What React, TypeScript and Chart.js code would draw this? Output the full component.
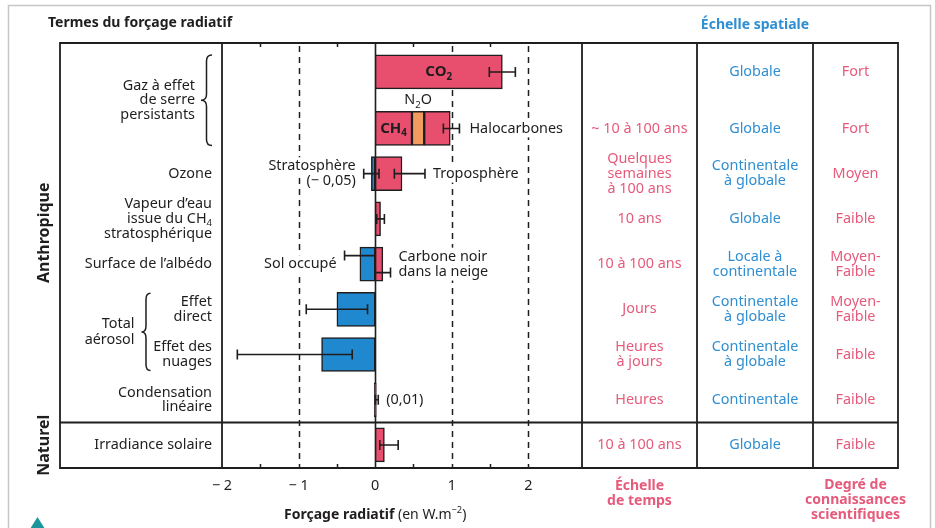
import React, { useEffect, useRef } from 'react';
import { Chart, registerables } from 'chart.js';

Chart.register(...registerables);

// ---- Forçage radiatif (W.m-2) ----
const termes = [
  'CO₂', 'CH₄ + N₂O + halocarbones', 'Ozone', 'Vapeur d’eau stratosphérique', 'Albédo de surface',
  'Aérosol, effet direct', 'Aérosol, effet des nuages', 'Condensation linéaire', 'Irradiance solaire',
];
const rechauffement = [1.66, 0.48, 0.35, 0.07, 0.1, 0, 0, 0.01, 0.12];
const refroidissement = [0, 0, -0.05, 0, -0.2, -0.5, -0.7, 0, 0];
const n2o = [0.48, 0.64];
const halocarbones = [0.64, 0.98];
const incertitudePositive: (number[] | null)[] = [
  [1.49, 1.83], [0.89, 1.1], [0.25, 0.65], [0.02, 0.12], [0.0, 0.2], null, null, [0.003, 0.04], [0.06, 0.3],
];
const incertitudeNegative: (number[] | null)[] = [
  null, null, [-0.15, 0.05], null, [-0.4, 0.0], [-0.9, -0.1], [-1.8, -0.3], null, null,
];
const xTicks = [-2, -1, 0, 1, 2];
const xDashed = [-1, 1, 2];
const xMinor = [-1.5, -0.5, 0.5, 1.5];

// ---- Colonnes du tableau ----
type Part = { t: string; sub?: boolean; sup?: boolean; bold?: boolean };
type Line = string | Part[];

const libelles: Line[][] = [
  [],
  [],
  ['Ozone'],
  ['Vapeur d’eau', [{ t: 'issue du CH' }, { t: '4', sub: true }], 'stratosphérique'],
  ['Surface de l’albédo'],
  ['Effet', 'direct'],
  ['Effet des', 'nuages'],
  ['Condensation', 'linéaire'],
  ['Irradiance solaire'],
];
const groupeGES = ['Gaz à effet', 'de serre', 'persistants'];
const groupeAerosol = ['Total', 'aérosol'];

const echelleTemps: Line[][] = [
  [],
  ['~ 10 à 100 ans'],
  ['Quelques', 'semaines', 'à 100 ans'],
  ['10 ans'],
  ['10 à 100 ans'],
  ['Jours'],
  ['Heures', 'à jours'],
  ['Heures'],
  ['10 à 100 ans'],
];
const echelleSpatiale: Line[][] = [
  ['Globale'],
  ['Globale'],
  ['Continentale', 'à globale'],
  ['Globale'],
  ['Locale à', 'continentale'],
  ['Continentale', 'à globale'],
  ['Continentale', 'à globale'],
  ['Continentale'],
  ['Globale'],
];
const connaissances: Line[][] = [
  ['Fort'], ['Fort'], ['Moyen'], ['Faible'], ['Moyen-', 'Faible'], ['Moyen-', 'Faible'], ['Faible'], ['Faible'], ['Faible'],
];

// ---- Mise en page ----
const rowSlot = [0, 1.25, 2.25, 3.25, 4.25, 5.25, 6.25, 7.25, 8.25];
const TABLE_LEFT = 60;
const COL_WIDTHS = [115, 116, 85];
const ALBEDO_SHIFT = [-8.5, 8.5]; // barres d'erreur décalées dans la ligne albédo

const PINK = '#E84F6E';
const BLUE = '#2088CE';
const ORANGE = '#F29B5F';
const INK = '#1f1d1d';
const TXT_PINK = '#E65A7B';
const TXT_BLUE = '#2F8FD2';
const FAMILY = '"Noto Sans", "DejaVu Sans", sans-serif';
const FS = 14.4;

type Align = 'left' | 'right' | 'center';

function setFont(ctx: CanvasRenderingContext2D, size: number, bold?: boolean) {
  ctx.font = `${bold ? '700 ' : ''}${size}px ${FAMILY}`;
}

function measureRich(ctx: CanvasRenderingContext2D, line: Line, size: number, bold: boolean) {
  const parts: Part[] = typeof line === 'string' ? [{ t: line }] : line;
  const sizes = parts.map((p) => (p.sub || p.sup ? size * 0.66 : size));
  const widths = parts.map((p, i) => {
    setFont(ctx, sizes[i], p.bold ?? bold);
    return ctx.measureText(p.t).width;
  });
  return { parts, sizes, widths, total: widths.reduce((a, b) => a + b, 0) };
}

function drawRich(
  ctx: CanvasRenderingContext2D, line: Line, x: number, y: number,
  align: Align, color: string, size = FS, bold = false, knockout = false,
) {
  const { parts, sizes, widths, total } = measureRich(ctx, line, size, bold);
  let cx = align === 'left' ? x : align === 'right' ? x - total : x - total / 2;
  if (knockout) {
    ctx.fillStyle = '#fff';
    ctx.fillRect(cx - 2, y - size * 0.62, total + 4, size * 1.24);
  }
  ctx.fillStyle = color;
  ctx.textAlign = 'left';
  ctx.textBaseline = 'middle';
  parts.forEach((p, i) => {
    setFont(ctx, sizes[i], p.bold ?? bold);
    const dy = p.sub ? size * 0.32 : p.sup ? -size * 0.3 : 0;
    ctx.fillText(p.t, cx, y + dy);
    cx += widths[i];
  });
}

function drawLines(
  ctx: CanvasRenderingContext2D, lines: Line[], x: number, yc: number,
  align: Align, color: string, lh = 15, size = FS, bold = false, knockout = false,
) {
  const n = lines.length;
  lines.forEach((l, i) => drawRich(ctx, l, x, yc + (i - (n - 1) / 2) * lh, align, color, size, bold, knockout));
}

function brace(ctx: CanvasRenderingContext2D, xTip: number, xEnd: number, y0: number, y1: number) {
  const xm = (xTip + xEnd) / 2;
  const yc = (y0 + y1) / 2;
  const r = 6;
  ctx.beginPath();
  ctx.moveTo(xEnd, y0);
  ctx.quadraticCurveTo(xm, y0, xm, y0 + r);
  ctx.lineTo(xm, yc - r);
  ctx.quadraticCurveTo(xm, yc, xTip, yc);
  ctx.quadraticCurveTo(xm, yc, xm, yc + r);
  ctx.lineTo(xm, y1 - r);
  ctx.quadraticCurveTo(xm, y1, xEnd, y1);
  ctx.stroke();
}

const decor = {
  id: 'decor',
  beforeDraw(chart: any) {
    const ctx: CanvasRenderingContext2D = chart.ctx;
    ctx.save();
    ctx.strokeStyle = '#c6c6c6';
    ctx.lineWidth = 1.5;
    ctx.beginPath();
    ctx.moveTo(8.5, 530);
    ctx.lineTo(8.5, 5.5);
    ctx.lineTo(930.5, 5.5);
    ctx.lineTo(930.5, 530);
    ctx.stroke();
    ctx.fillStyle = '#1a979d';
    ctx.beginPath();
    ctx.moveTo(30, 529);
    ctx.lineTo(37.5, 517);
    ctx.lineTo(45, 529);
    ctx.closePath();
    ctx.fill();
    drawRich(ctx, 'Termes du forçage radiatif', 48, 23, 'left', INK, 14, true);
    ctx.restore();
  },
  beforeDatasetsDraw(chart: any) {
    const ctx: CanvasRenderingContext2D = chart.ctx;
    const x = chart.scales.x;
    const { top, bottom } = chart.chartArea;
    ctx.save();
    ctx.strokeStyle = INK;
    ctx.lineWidth = 1.5;
    ctx.setLineDash([6, 5]);
    xDashed.forEach((v) => {
      const px = Math.round(x.getPixelForValue(v)) + 0.5;
      ctx.beginPath();
      ctx.moveTo(px, top + 3);
      ctx.lineTo(px, bottom);
      ctx.stroke();
    });
    ctx.setLineDash([]);
    xMinor.forEach((v) => {
      const px = Math.round(x.getPixelForValue(v)) + 0.5;
      ctx.beginPath();
      ctx.moveTo(px, top);
      ctx.lineTo(px, top + 4);
      ctx.moveTo(px, bottom);
      ctx.lineTo(px, bottom - 4);
      ctx.stroke();
    });
    const z = Math.round(x.getPixelForValue(0)) + 0.5;
    ctx.lineWidth = 1.6;
    ctx.beginPath();
    ctx.moveTo(z, top);
    ctx.lineTo(z, bottom);
    ctx.stroke();
    ctx.restore();
  },
  afterDatasetsDraw(chart: any) {
    const ctx: CanvasRenderingContext2D = chart.ctx;
    const xs = chart.scales.x;
    const ys = chart.scales.y;
    const { left, right, top, bottom } = chart.chartArea;
    const px = (v: number) => xs.getPixelForValue(v);
    const py = (s: number) => ys.getPixelForValue(s);
    ctx.save();

    // étiquettes dans le graphique (fond blanc qui masque les pointillés)
    const lo = (r: number[] | null) => px((r as number[])[0]);
    const hi = (r: number[] | null) => px((r as number[])[1]);
    drawRich(ctx, 'Halocarbones', hi(incertitudePositive[1]) + 10, py(rowSlot[1]), 'left', INK, FS, false, true);
    drawLines(ctx, ['Stratosphère', '(− 0,05)'], lo(incertitudeNegative[2]) - 8, py(rowSlot[2]), 'right', INK, 15, FS, false, true);
    drawRich(ctx, 'Troposphère', hi(incertitudePositive[2]) + 8, py(rowSlot[2]), 'left', INK, FS, false, true);
    drawRich(ctx, 'Sol occupé', lo(incertitudeNegative[4]) - 8, py(rowSlot[4]), 'right', INK, FS, false, true);
    drawLines(ctx, ['Carbone noir', 'dans la neige'], hi(incertitudePositive[4]) + 8, py(rowSlot[4]), 'left', INK, 15, FS, false, true);
    drawRich(ctx, '(0,01)', hi(incertitudePositive[7]) + 8, py(rowSlot[7]), 'left', INK, FS, false, true);
    drawRich(ctx, [{ t: 'N' }, { t: '2', sub: true }, { t: 'O' }], px((n2o[0] + n2o[1]) / 2), py((rowSlot[0] + rowSlot[1]) / 2), 'center', INK);
    drawRich(ctx, [{ t: 'CO', bold: true }, { t: '2', sub: true, bold: true }], px(rechauffement[0] / 2), py(rowSlot[0]), 'center', INK, 15);
    drawRich(ctx, [{ t: 'CH', bold: true }, { t: '4', sub: true, bold: true }], px(rechauffement[1] / 2), py(rowSlot[1]), 'center', INK, 15);

    // barres d'incertitude
    ctx.strokeStyle = INK;
    ctx.lineWidth = 1.6;
    const errBar = (r: number[], y: number) => {
      const a = px(r[0]);
      const b = px(r[1]);
      ctx.beginPath();
      ctx.moveTo(a, y);
      ctx.lineTo(b, y);
      ctx.moveTo(a, y - 5);
      ctx.lineTo(a, y + 5);
      ctx.moveTo(b, y - 5);
      ctx.lineTo(b, y + 5);
      ctx.stroke();
    };
    rowSlot.forEach((s, i) => {
      const y = py(s);
      const pos = incertitudePositive[i];
      const neg = incertitudeNegative[i];
      const split = pos && neg && i === 4;
      if (neg) errBar(neg, y + (split ? ALBEDO_SHIFT[0] : 0));
      if (pos) errBar(pos, y + (split ? ALBEDO_SHIFT[1] : 0));
    });

    // tableau
    const cols = [right];
    COL_WIDTHS.forEach((w) => cols.push(cols[cols.length - 1] + w));
    const tableRight = cols[cols.length - 1];
    const sep = Math.round(py((rowSlot[7] + rowSlot[8]) / 2)) + 0.5;
    ctx.strokeStyle = INK;
    ctx.lineWidth = 1.8;
    ctx.beginPath();
    ctx.rect(TABLE_LEFT, top, tableRight - TABLE_LEFT, bottom - top);
    [left, ...cols.slice(0, 3)].forEach((c) => {
      ctx.moveTo(c, top);
      ctx.lineTo(c, bottom);
    });
    ctx.moveTo(TABLE_LEFT, sep);
    ctx.lineTo(tableRight, sep);
    ctx.stroke();

    // libellés des termes
    const labelRight = left - 10;
    rowSlot.forEach((s, i) => drawLines(ctx, libelles[i], labelRight, py(s), 'right', INK, 14.6));
    ctx.lineWidth = 1.5;
    const gTip = labelRight - 11;
    brace(ctx, gTip, labelRight, py(rowSlot[0]) - 17, py(rowSlot[1]) + 17);
    drawLines(ctx, groupeGES, gTip - 6, py((rowSlot[0] + rowSlot[1]) / 2), 'right', INK, 14.6);
    const aTip = 141.5;
    brace(ctx, aTip, aTip + 9, py(rowSlot[5]) - 16, py(rowSlot[6]) + 16);
    drawLines(ctx, groupeAerosol, aTip - 7, py((rowSlot[5] + rowSlot[6]) / 2), 'right', INK, 15.5);

    // colonnes de droite
    const centers = [0, 1, 2].map((k) => (cols[k] + cols[k + 1]) / 2);
    rowSlot.forEach((s, i) => {
      const y = py(s);
      drawLines(ctx, echelleTemps[i], centers[0], y, 'center', TXT_PINK);
      drawLines(ctx, echelleSpatiale[i], centers[1], y, 'center', TXT_BLUE);
      drawLines(ctx, connaissances[i], centers[2], y, 'center', TXT_PINK);
    });
    drawRich(ctx, 'Échelle spatiale', centers[1], 25, 'center', TXT_BLUE, 14, true);
    drawLines(ctx, ['Échelle', 'de temps'], centers[0], 493.5, 'center', TXT_PINK, 15, 14, true);
    drawLines(ctx, ['Degré de', 'connaissances', 'scientifiques'], centers[2], 500, 'center', TXT_PINK, 15, 14, true);

    // catégories verticales
    const vertical = (t: string, y: number) => {
      ctx.save();
      ctx.translate(44, y);
      ctx.rotate(-Math.PI / 2);
      drawRich(ctx, t, 0, 0, 'center', INK, 16, true);
      ctx.restore();
    };
    vertical('Anthropique', (top + sep) / 2);
    vertical('Naturel', (sep + bottom) / 2);

    // titre de l'axe
    drawRich(
      ctx,
      [{ t: 'Forçage radiatif', bold: true }, { t: ' (en W.m' }, { t: '−2', sup: true }, { t: ')' }],
      px(0), 515, 'center', INK, 14,
    );
    ctx.restore();
  },
};

export default function App() {
  const ref = useRef<HTMLCanvasElement>(null);

  useEffect(() => {
    const canvas = ref.current;
    if (!canvas) return;

    const pinkData: { x: number[]; y: number }[] = [];
    rechauffement.forEach((v, i) => {
      if (v > 0) pinkData.push({ x: [0, v], y: rowSlot[i] });
    });
    pinkData.push({ x: halocarbones, y: rowSlot[1] });
    const blueData: { x: number[]; y: number }[] = [];
    refroidissement.forEach((v, i) => {
      if (v < 0) blueData.push({ x: [v, 0], y: rowSlot[i] });
    });

    const common = {
      borderColor: INK,
      borderWidth: 1.5,
      borderSkipped: false as const,
      barThickness: 34,
      grouped: false,
      minBarLength: 2,
    };

    const chart = new Chart(canvas, {
      type: 'bar',
      data: {
        labels: termes,
        datasets: [
          { label: 'Réchauffement', data: pinkData as any, backgroundColor: PINK, ...common },
          { label: 'N₂O', data: [{ x: n2o, y: rowSlot[1] }] as any, backgroundColor: ORANGE, ...common },
          { label: 'Refroidissement', data: blueData as any, backgroundColor: BLUE, ...common },
        ],
      },
      options: {
        indexAxis: 'y',
        animation: false,
        responsive: true,
        maintainAspectRatio: false,
        layout: { padding: { left: 222, right: 353, top: 43, bottom: 0 } },
        plugins: { legend: { display: false }, tooltip: { enabled: false } },
        scales: {
          x: {
            type: 'linear',
            position: 'bottom',
            min: -2,
            max: 2.7,
            grid: { display: false, drawTicks: false },
            border: { display: false },
            ticks: {
              padding: 9,
              color: INK,
              font: { family: FAMILY, size: FS },
              callback: (v: any) => (Number(v) < 0 ? `− ${Math.abs(Number(v))}` : String(v)),
            },
            afterBuildTicks: (s: any) => {
              s.ticks = xTicks.map((v) => ({ value: v }));
            },
            afterFit: (s: any) => {
              s.height = 60;
            },
          },
          y: {
            type: 'linear',
            display: false,
            reverse: true,
            offset: false,
            min: -0.64,
            max: 8.76,
            afterBuildTicks: (s: any) => {
              s.ticks = rowSlot.map((v) => ({ value: v }));
            },
          },
        },
      },
      plugins: [decor],
    });
    return () => chart.destroy();
  }, []);

  return (
    <div style={{ position: 'fixed', left: 0, top: 0, width: 935, height: 528, background: '#fff' }}>
      <canvas ref={ref} />
    </div>
  );
}
